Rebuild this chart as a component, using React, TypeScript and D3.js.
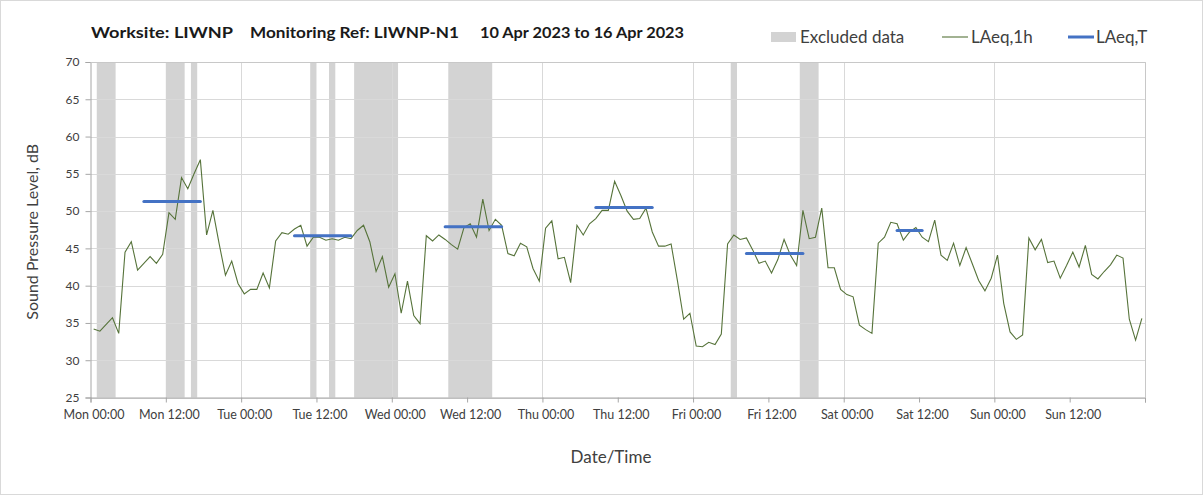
import React, { useEffect, useRef } from "react"
import * as d3 from "d3"

// hourly LAeq,1h values, Mon 00:00 .. Sun 23:00 (168 hours)
const laeq1h = [
  34.2, 33.9, 34.8, 35.7, 33.6, 44.5, 45.9, 42.1, 43.0, 43.9, 43.0, 44.2,
  49.8, 48.9, 54.5, 53.0, 55.0, 56.9, 46.8, 50.1, 45.6, 41.4, 43.3, 40.3,
  38.9, 39.5, 39.5, 41.7, 39.7, 46.0, 47.1, 46.9, 47.6, 48.1, 45.3, 46.5,
  46.5, 46.1, 46.3, 46.1, 46.5, 46.3, 47.4, 48.1, 45.9, 41.9, 43.9, 39.8,
  41.6, 36.3, 40.6, 36.0, 34.9, 46.7, 46.0, 46.8, 46.2, 45.5, 44.9, 47.8,
  48.3, 46.5, 51.6, 47.4, 48.9, 48.1, 44.3, 44.0, 45.7, 45.2, 42.3, 40.6,
  47.7, 48.7, 43.6, 43.8, 40.4, 48.1, 46.8, 48.3, 49.0, 50.1, 50.1, 54.0,
  52.1, 50.0, 48.9, 49.0, 50.4, 47.2, 45.3, 45.3, 45.6, 40.7, 35.5, 36.3,
  31.9, 31.8, 32.4, 32.1, 33.5, 45.6, 46.8, 46.2, 46.4, 44.8, 43.0, 43.3,
  41.7, 43.5, 46.2, 44.1, 42.7, 50.1, 46.3, 46.5, 50.4, 42.4, 42.4, 39.5,
  38.8, 38.5, 34.7, 34.1, 33.6, 45.7, 46.5, 48.5, 48.3, 46.1, 47.2, 47.8,
  46.5, 45.9, 48.8, 44.1, 43.4, 45.7, 42.7, 45.1, 42.9, 40.7, 39.3, 41.0,
  44.1, 37.6, 33.8, 32.8, 33.4, 46.4, 44.8, 46.2, 43.1, 43.3, 41.0, 42.7,
  44.5, 42.5, 45.4, 41.5, 40.9, 41.9, 42.8, 44.1, 43.7, 35.5, 32.7, 35.6,
]

// excluded periods, hours from Mon 00:00
const excludedStart = [1, 12, 16, 35, 38, 42, 57, 102, 113]
const excludedEnd = [4, 15, 17, 36, 39, 49, 64, 103, 116]

// LAeq,T periods
const laeqTStart = [8.5, 32.5, 56.5, 80.5, 104.5, 128.5]
const laeqTEnd = [17.5, 41.5, 65.5, 89.5, 113.5, 132.5]
const laeqTValue = [51.3, 46.7, 47.9, 50.5, 44.3, 47.4]

const dayNames = ["Mon", "Tue", "Wed", "Thu", "Fri", "Sat", "Sun"]
const yTicks = [25, 30, 35, 40, 45, 50, 55, 60, 65, 70]
const titleParts = ["Worksite: LIWNP", "Monitoring Ref: LIWNP-N1", "10 Apr 2023 to 16 Apr 2023"]

const W = 1203
const H = 495
const FONT = "Lato, 'Open Sans', sans-serif"

const drawChart = (wrapper: SVGSVGElement) => {
  const svg = d3.select(wrapper)
  svg.selectAll("*").remove()

  const left = 90.5
  const right = 1145
  const top = 62
  const bottom = 397.5

  const x = d3.scaleLinear().domain([0, 168]).range([left, right])
  const y = d3.scaleLinear().domain([25, 70]).range([bottom, top])

  // chart border
  svg
    .append("rect")
    .attr("x", 0.5)
    .attr("y", 0.5)
    .attr("width", W - 1)
    .attr("height", H - 1)
    .attr("fill", "#fff")
    .attr("stroke", "#d9d9d9")

  // excluded bands
  svg
    .append("g")
    .selectAll("rect")
    .data(excludedStart)
    .enter()
    .append("rect")
    .attr("x", d => x(d))
    .attr("width", (d, i) => x(excludedEnd[i]) - x(d))
    .attr("y", top)
    .attr("height", bottom - top)
    .attr("fill", "#d3d3d3")

  // horizontal grid
  svg
    .append("g")
    .selectAll("line")
    .data(yTicks)
    .enter()
    .append("line")
    .attr("x1", left)
    .attr("x2", right)
    .attr("y1", d => Math.round(y(d)) + 0.5)
    .attr("y2", d => Math.round(y(d)) + 0.5)
    .attr("stroke", "#d9d9d9")

  // vertical grid at each day
  svg
    .append("g")
    .selectAll("line")
    .data(d3.range(24, 169, 24))
    .enter()
    .append("line")
    .attr("x1", d => Math.round(x(d)) + 0.5)
    .attr("x2", d => Math.round(x(d)) + 0.5)
    .attr("y1", top)
    .attr("y2", bottom)
    .attr("stroke", "#d9d9d9")

  // y axis
  const yAxis = svg
    .append("g")
    .attr("transform", `translate(${left},0)`)
    .call(d3.axisLeft(y).tickValues(yTicks).tickSize(5).tickPadding(6))
  yAxis.select(".domain").attr("stroke", "#a6a6a6")
  yAxis.selectAll(".tick line").attr("stroke", "#a6a6a6")
  yAxis
    .selectAll(".tick text")
    .attr("fill", "#404040")
    .style("font-family", FONT)
    .style("font-size", "12px")

  // x axis
  const xAxis = svg
    .append("g")
    .attr("transform", `translate(0,${bottom})`)
    .call(
      d3
        .axisBottom(x)
        .tickValues(d3.range(0, 169, 12))
        .tickSize(5)
        .tickPadding(8)
        .tickFormat(d => {
          const h = +d
          if (h >= 168) return ""
          return dayNames[Math.floor(h / 24)] + (h % 24 === 0 ? " 00:00" : " 12:00")
        })
    )
  xAxis.select(".domain").attr("stroke", "#a6a6a6")
  xAxis.selectAll(".tick line").attr("stroke", "#a6a6a6")
  xAxis
    .selectAll(".tick text")
    .attr("fill", "#404040")
    .attr("dx", 3)
    .style("font-family", FONT)
    .style("font-size", "12.5px")

  // plot border top/right
  svg
    .append("path")
    .attr("d", `M${left},${top + 0.5}H${right + 0.5}V${bottom}`)
    .attr("fill", "none")
    .attr("stroke", "#c8c8c8")

  // LAeq,1h line
  const line = d3
    .line<number>()
    .x((d, i) => x(i + 0.5))
    .y(d => y(d))
  svg
    .append("path")
    .datum(laeq1h)
    .attr("d", line)
    .attr("fill", "none")
    .attr("stroke", "#56733a")
    .attr("stroke-width", 1.1)

  // LAeq,T lines
  svg
    .append("g")
    .selectAll("line")
    .data(laeqTValue)
    .enter()
    .append("line")
    .attr("x1", (d, i) => x(laeqTStart[i]))
    .attr("x2", (d, i) => x(laeqTEnd[i]))
    .attr("y1", d => y(d))
    .attr("y2", d => y(d))
    .attr("stroke", "#4472c4")
    .attr("stroke-width", 3)
    .attr("stroke-linecap", "round")

  // title, three parts spaced like the original
  const titleX = [91, 250, 480]
  const titleLen = [142, 209, 204]
  svg
    .append("g")
    .selectAll("text")
    .data(titleParts)
    .enter()
    .append("text")
    .attr("x", (d, i) => titleX[i])
    .attr("y", 38)
    .attr("textLength", (d, i) => titleLen[i])
    .attr("lengthAdjust", "spacingAndGlyphs")
    .style("font-family", FONT)
    .style("font-size", "16px")
    .style("font-weight", "bold")
    .attr("fill", "#1a1a1a")
    .text(d => d)

  // legend
  const legend = svg.append("g").style("font-family", FONT).style("font-size", "17px").attr("fill", "#404040")
  legend.append("rect").attr("x", 771).attr("y", 32).attr("width", 25).attr("height", 10).attr("fill", "#d3d3d3")
  legend.append("text").attr("x", 800).attr("y", 43).text("Excluded data")
  legend
    .append("line")
    .attr("x1", 942)
    .attr("x2", 968)
    .attr("y1", 37)
    .attr("y2", 37)
    .attr("stroke", "#56733a")
    .attr("stroke-width", 1.1)
  legend.append("text").attr("x", 971).attr("y", 43).text("LAeq,1h")
  legend
    .append("line")
    .attr("x1", 1068)
    .attr("x2", 1094)
    .attr("y1", 37)
    .attr("y2", 37)
    .attr("stroke", "#4472c4")
    .attr("stroke-width", 3)
  legend.append("text").attr("x", 1096).attr("y", 43).text("LAeq,T")

  // axis titles
  svg
    .append("text")
    .attr("transform", `translate(38,${(top + bottom) / 2 + 2}) rotate(-90)`)
    .attr("text-anchor", "middle")
    .style("font-family", FONT)
    .style("font-size", "16px")
    .attr("fill", "#404040")
    .text("Sound Pressure Level, dB")

  svg
    .append("text")
    .attr("x", 611)
    .attr("y", 463)
    .attr("text-anchor", "middle")
    .style("font-family", FONT)
    .style("font-size", "17px")
    .attr("fill", "#404040")
    .text("Date/Time")
}

export default function App() {
  const ref = useRef<SVGSVGElement>(null)
  useEffect(() => {
    if (ref.current) drawChart(ref.current)
  }, [])

  return (
    <svg
      ref={ref}
      width={W}
      height={H}
      style={{ position: "absolute", left: 0, top: 0, background: "#fff" }}
    />
  )
}
